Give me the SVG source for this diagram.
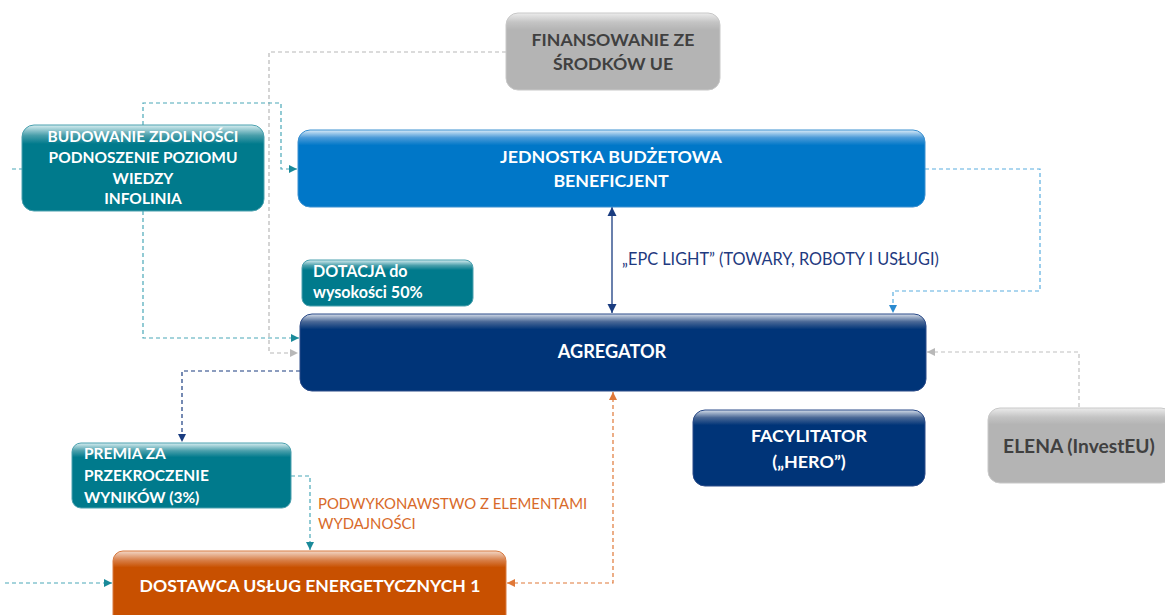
<svg xmlns="http://www.w3.org/2000/svg" width="1165" height="615" viewBox="0 0 1165 615">
<defs>
<style>
.t{font-family:Lato,"Open Sans","Liberation Sans",sans-serif;font-weight:bold;fill:#fff}
.tc{text-anchor:middle}
.tg{fill:#404040}
.lab{font-family:Lato,"Open Sans","Liberation Sans",sans-serif}
.d{fill:none;stroke-width:1.2;stroke-dasharray:4 3}
</style>
<linearGradient id="gTeal" x1="0" y1="0" x2="0" y2="1">
<stop offset="0" stop-color="#d8eef1"/><stop offset="0.12" stop-color="#4a9fab"/><stop offset="0.22" stop-color="#007a8c"/><stop offset="1" stop-color="#007a8c"/>
</linearGradient>
<linearGradient id="gBlue" x1="0" y1="0" x2="0" y2="1">
<stop offset="0" stop-color="#dcecf8"/><stop offset="0.1" stop-color="#4a9ad8"/><stop offset="0.2" stop-color="#0077c8"/><stop offset="1" stop-color="#0077c8"/>
</linearGradient>
<linearGradient id="gNavy" x1="0" y1="0" x2="0" y2="1">
<stop offset="0" stop-color="#d6deea"/><stop offset="0.1" stop-color="#4a6896"/><stop offset="0.2" stop-color="#003478"/><stop offset="1" stop-color="#003478"/>
</linearGradient>
<linearGradient id="gGray" x1="0" y1="0" x2="0" y2="1">
<stop offset="0" stop-color="#ececec"/><stop offset="0.12" stop-color="#c4c4c4"/><stop offset="0.22" stop-color="#b4b4b4"/><stop offset="1" stop-color="#b4b4b4"/>
</linearGradient>
<linearGradient id="gOr" x1="0" y1="0" x2="0" y2="1">
<stop offset="0" stop-color="#f3d8c8"/><stop offset="0.12" stop-color="#d8804a"/><stop offset="0.22" stop-color="#c85000"/><stop offset="1" stop-color="#c85000"/>
</linearGradient>
<marker id="aTeal" viewBox="0 0 10 10" refX="10" refY="5" markerWidth="7" markerHeight="7" orient="auto-start-reverse"><path d="M0,0 L10,5 L0,10 z" fill="#1a8a9a"/></marker>
<marker id="aGray" viewBox="0 0 10 10" refX="10" refY="5" markerWidth="7" markerHeight="7" orient="auto-start-reverse"><path d="M0,0 L10,5 L0,10 z" fill="#b8b8b8"/></marker>
<marker id="aLB" viewBox="0 0 10 10" refX="10" refY="5" markerWidth="7" markerHeight="7" orient="auto-start-reverse"><path d="M0,0 L10,5 L0,10 z" fill="#2a8ad0"/></marker>
<marker id="aNavy" viewBox="0 0 10 10" refX="10" refY="5" markerWidth="7" markerHeight="7" orient="auto-start-reverse"><path d="M0,0 L10,5 L0,10 z" fill="#1a3c80"/></marker>
<marker id="aOr" viewBox="0 0 10 10" refX="10" refY="5" markerWidth="7" markerHeight="7" orient="auto-start-reverse"><path d="M0,0 L10,5 L0,10 z" fill="#e07838"/></marker>
</defs>
<rect width="1165" height="615" fill="#fff"/>
<g id="connectors">
<polyline class="d" stroke="#b8b8b8" points="506,52 269,52 269,353 298,353" marker-end="url(#aGray)"/>
<polyline class="d" stroke="#4aa8b8" points="143,125 143,103 281,103 281,169 297,169" marker-end="url(#aTeal)"/>
<polyline class="d" stroke="#4aa8b8" points="143,211 143,338 299,338" marker-end="url(#aTeal)"/>
<line class="d" stroke="#4aa8b8" x1="12" y1="169" x2="22" y2="169"/>
<polyline class="d" stroke="#5aaee0" points="925,169 1040,169 1040,291 893,291 893,313" marker-end="url(#aLB)"/>
<line x1="612" y1="207" x2="612" y2="313" stroke="#1a3c80" stroke-width="1.3" marker-start="url(#aNavy)" marker-end="url(#aNavy)"/>
<polyline class="d" stroke="#c0c0c0" points="1079,407 1079,352 927,352" marker-end="url(#aGray)"/>
<polyline class="d" stroke="#1a3c80" points="300,371 182,371 182,442" marker-end="url(#aNavy)"/>
<polyline class="d" stroke="#4aa8b8" points="291,476 310,476 310,550" marker-end="url(#aTeal)"/>
<polyline class="d" stroke="#e07838" points="507,583 613,583 613,392" marker-start="url(#aOr)" marker-end="url(#aOr)"/>
<line class="d" stroke="#4aa8b8" x1="5" y1="583" x2="112" y2="583" marker-end="url(#aTeal)"/>
<text class="lab" x="622" y="265" fill="#1f3a80" style="font-size:16.3px">„EPC LIGHT” (TOWARY, ROBOTY I USŁUGI)</text>
<text class="lab" x="318" y="509" fill="#d86a2a" style="font-size:14.9px">PODWYKONAWSTWO Z ELEMENTAMI</text>
<text class="lab" x="318" y="529" fill="#d86a2a" style="font-size:14.9px">WYDAJNOŚCI</text>
</g>
<g id="n-finansowanie">
<rect x="506" y="13" width="214" height="77" rx="12" fill="url(#gGray)" stroke="#c8c8c8"/>
<text class="t tc tg" x="613" y="46" style="font-size:17.7px">FINANSOWANIE ZE</text>
<text class="t tc tg" x="613" y="70" style="font-size:17.7px">ŚRODKÓW UE</text>
</g>
<g id="n-budowanie">
<rect x="22" y="125" width="242" height="86" rx="12" fill="url(#gTeal)" stroke="#4aa0ae"/>
<text class="t tc" x="143" y="142" style="font-size:15.5px">BUDOWANIE ZDOLNOŚCI</text>
<text class="t tc" x="143" y="163" style="font-size:15.5px">PODNOSZENIE POZIOMU</text>
<text class="t tc" x="143" y="184" style="font-size:15.5px">WIEDZY</text>
<text class="t tc" x="143" y="204" style="font-size:15.5px">INFOLINIA</text>
</g>
<g id="n-jednostka">
<rect x="298" y="130" width="627" height="77" rx="12" fill="url(#gBlue)" stroke="#3a90d0"/>
<text class="t tc" x="611" y="163" style="font-size:17.8px">JEDNOSTKA BUDŻETOWA</text>
<text class="t tc" x="611" y="187" style="font-size:17.8px">BENEFICJENT</text>
</g>
<g id="n-dotacja">
<rect x="302" y="260" width="171" height="46" rx="8" fill="url(#gTeal)" stroke="#4aa0ae"/>
<text class="t" x="313" y="277" style="font-size:16.1px">DOTACJA do</text>
<text class="t" x="313" y="298" style="font-size:16.1px">wysokości 50%</text>
</g>
<g id="n-agregator">
<rect x="300" y="314" width="626" height="77" rx="12" fill="url(#gNavy)" stroke="#2a4a88"/>
<text class="t tc" x="612" y="358" style="font-size:18.2px">AGREGATOR</text>
</g>
<g id="n-facylitator">
<rect x="693" y="410" width="232" height="76" rx="12" fill="url(#gNavy)" stroke="#2a4a88"/>
<text class="t tc" x="809" y="442" style="font-size:17.9px">FACYLITATOR</text>
<text class="t tc" x="809" y="468" style="font-size:17.9px">(„HERO”)</text>
</g>
<g id="n-elena">
<rect x="988" y="408" width="185" height="75" rx="12" fill="url(#gGray)" stroke="#c8c8c8"/>
<text class="t tc tg" x="1079" y="453" style="font-size:19.2px">ELENA (InvestEU)</text>
</g>
<g id="n-premia">
<rect x="72" y="443" width="219" height="65" rx="9" fill="url(#gTeal)" stroke="#4aa0ae"/>
<text class="t" x="84" y="459" style="font-size:15.5px">PREMIA ZA</text>
<text class="t" x="84" y="481" style="font-size:15.5px">PRZEKROCZENIE</text>
<text class="t" x="84" y="503" style="font-size:15.5px">WYNIKÓW (3%)</text>
</g>
<g id="n-dostawca">
<rect x="113" y="551" width="393" height="75" rx="10" fill="url(#gOr)" stroke="#d87a40"/>
<text class="t tc" x="310" y="592" style="font-size:17.6px">DOSTAWCA USŁUG ENERGETYCZNYCH 1</text>
</g>
</svg>
